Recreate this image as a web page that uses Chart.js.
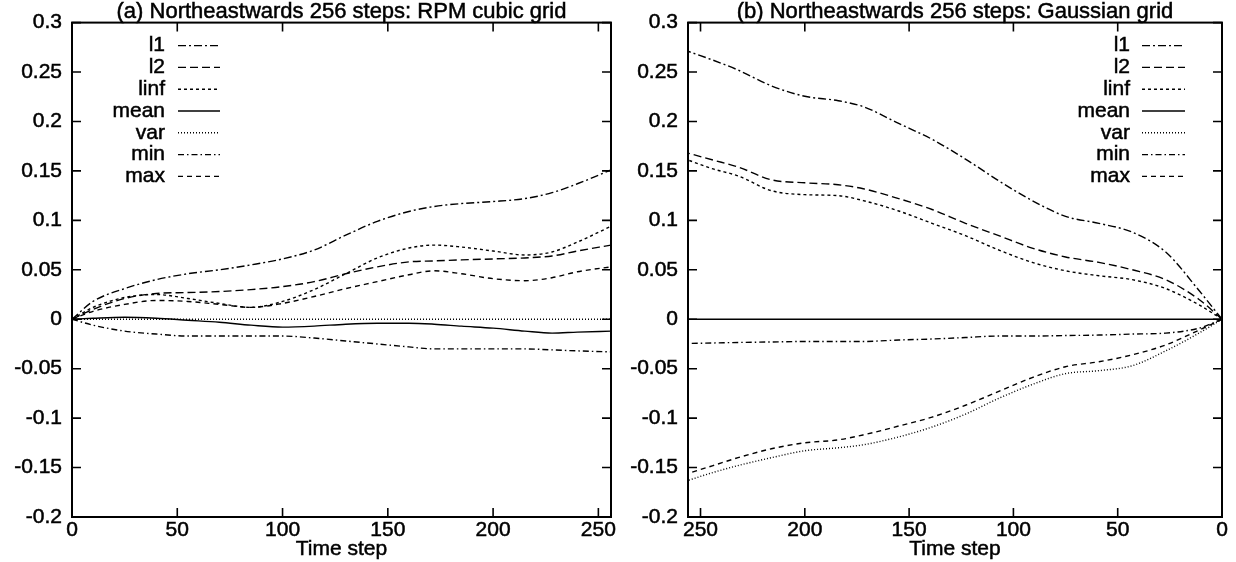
<!DOCTYPE html>
<html><head><meta charset="utf-8">
<script src="https://cdn.jsdelivr.net/npm/chart.js@4.4.1/dist/chart.umd.min.js"></script>
<style>
html,body{margin:0;padding:0;background:#fff;}
#wrap{position:relative;width:1236px;height:562px;overflow:hidden;}
.box{position:absolute;top:0;width:618px;height:562px;}
#b1{left:0;} #b2{left:618px;}
</style></head><body>
<div id="wrap"><div class="box" id="b1"><canvas id="c1" width="618" height="562"></canvas></div><div class="box" id="b2"><canvas id="c2" width="618" height="562"></canvas></div></div>
<script>
// ---------- data ----------
const seriesNames = ['l1','l2','linf','mean','var','min','max'];
const titleA = '(a) Northeastwards 256 steps: RPM cubic grid';
const titleB = '(b) Northeastwards 256 steps: Gaussian grid';
const xAxisTitle = 'Time step';
const xTickValues = [0,50,100,150,200,250];
const yTickValues = [-0.2,-0.15,-0.1,-0.05,0,0.05,0.1,0.15,0.2,0.25,0.3];

const stepsA = [0,10,25,40,55,70,85,100,115,130,145,160,172,185,200,215,228,240,256];
const l1A   = [0,0.018,0.031,0.040,0.046,0.050,0.055,0.061,0.070,0.085,0.099,0.109,0.114,0.117,0.119,0.122,0.128,0.137,0.151];
const l2A   = [0,0.010,0.021,0.026,0.027,0.028,0.030,0.033,0.038,0.046,0.053,0.058,0.059,0.060,0.061,0.062,0.064,0.069,0.075];
const linfA = [0,0.012,0.022,0.025,0.021,0.016,0.012,0.018,0.030,0.046,0.062,0.072,0.075,0.073,0.069,0.065,0.068,0.078,0.094];
const meanA = [0,0.001,0.002,0.001,-0.001,-0.003,-0.006,-0.008,-0.007,-0.005,-0.004,-0.004,-0.005,-0.007,-0.009,-0.012,-0.014,-0.013,-0.012];
const varA  = [0,0,0,0,0,0,0,0,0,0,0,0,0,0,0,0,0,0,0];
const minA  = [0,-0.006,-0.012,-0.015,-0.017,-0.017,-0.017,-0.017,-0.019,-0.022,-0.025,-0.028,-0.030,-0.030,-0.030,-0.030,-0.031,-0.032,-0.033];
const maxA  = [0,0.008,0.015,0.019,0.018,0.015,0.012,0.016,0.023,0.031,0.038,0.045,0.049,0.046,0.041,0.039,0.042,0.048,0.053];

const stepsB = [0,11,27,43,59,75,91,107,123,139,155,172,184,200,216,232,244,256];
const l1B   = [0,0.029,0.068,0.088,0.097,0.104,0.120,0.140,0.162,0.182,0.198,0.215,0.221,0.2255,0.236,0.252,0.262,0.271];
const l2B   = [0,0.020,0.040,0.050,0.0575,0.063,0.072,0.0845,0.097,0.111,0.122,0.132,0.136,0.138,0.141,0.154,0.161,0.168];
const linfB = [0,0.0145,0.031,0.040,0.044,0.049,0.0575,0.070,0.0845,0.097,0.1095,0.120,0.125,0.126,0.130,0.145,0.152,0.161];
const meanB = [0,0,0,0,0,0,0,0,0,0,0,0,0,0,0,0,0,0];
const varB  = [0,-0.014,-0.032,-0.047,-0.052,-0.055,-0.066,-0.080,-0.096,-0.109,-0.119,-0.127,-0.130,-0.133,-0.140,-0.148,-0.155,-0.163];
const minB  = [0,-0.009,-0.014,-0.015,-0.016,-0.0165,-0.017,-0.017,-0.0185,-0.020,-0.021,-0.0225,-0.0225,-0.0225,-0.023,-0.0235,-0.024,-0.0245];
const maxB  = [0,-0.011,-0.026,-0.036,-0.043,-0.048,-0.059,-0.073,-0.087,-0.099,-0.108,-0.117,-0.122,-0.125,-0.131,-0.140,-0.148,-0.156];

// ---------- styles ----------
const dashes = [[8,3,2,3],[8,4],[3,3],[],[1,2],[6,3,1.5,3],[5,4]];
const FONT = "'Liberation Sans', Arial, sans-serif";
Chart.defaults.font.family = FONT;
Chart.defaults.font.size = 21;
Chart.defaults.color = '#000';

function makeDatasets(steps, series){
  return series.map((vals,i)=>({
    label: seriesNames[i],
    data: steps.map((s,k)=>({x:s,y:vals[k]})),
    borderColor:'#000', borderWidth:1.4, borderDash:dashes[i],
    pointRadius:0, fill:false, cubicInterpolationMode:'monotone'
  }));
}

function boldText(ctx, txt, x, y){
  ctx.fillText(txt, x, y);
  ctx.strokeText(txt, x, y);
}

const deco = {
  id:'deco',
  afterDatasetsDraw(chart, args, o){
    const {ctx, chartArea:a, scales:{x,y}} = chart;
    ctx.save();
    ctx.setLineDash([]);
    ctx.strokeStyle='#000';
    ctx.lineWidth=2;
    ctx.strokeRect(a.left,a.top,a.right-a.left,a.bottom-a.top);
    ctx.lineWidth=1.6;
    const L=9;
    ctx.beginPath();
    x.ticks.forEach(t=>{const p=x.getPixelForValue(t.value);
      ctx.moveTo(p,a.bottom);ctx.lineTo(p,a.bottom-L);ctx.moveTo(p,a.top);ctx.lineTo(p,a.top+L);});
    y.ticks.forEach(t=>{const p=y.getPixelForValue(t.value);
      ctx.moveTo(a.left,p);ctx.lineTo(a.left+L,p);ctx.moveTo(a.right,p);ctx.lineTo(a.right-L,p);});
    ctx.stroke();
    ctx.fillStyle='#000';
    ctx.textBaseline='middle';
    ctx.textAlign='center';
    ctx.lineWidth=0.5;
    const cx=(a.left+a.right)/2;
    ctx.font="22px "+FONT;
    boldText(ctx,o.title,cx,o.titleY);
    ctx.font="21px "+FONT;
    boldText(ctx,o.xTitle,cx,o.xTitleY);
    const base = o.legendFromRight ? a.right : a.left;
    chart.data.datasets.forEach((ds,i)=>{
      const yy=a.top+o.legTop+o.legGap*i;
      ctx.textAlign='right';
      ctx.setLineDash([]);
      ctx.lineWidth=0.5;
      boldText(ctx, ds.label, base+o.textX, yy);
      ctx.beginPath();
      ctx.lineWidth=1.4;
      ctx.setLineDash(ds.borderDash||[]);
      ctx.moveTo(base+o.s0,yy);ctx.lineTo(base+o.s1,yy);
      ctx.stroke();
    });
    ctx.restore();
  }
};

function fmt(v){const r=Math.round(v*100)/100; return r===0?'0':String(r);}

function makeChart(id, steps, series, reverse, leftW, rightPad, decoOpts){
  return new Chart(document.getElementById(id), {
    type:'line',
    data:{datasets:makeDatasets(steps, series)},
    options:{
      responsive:false, animation:false, devicePixelRatio:1,
      layout:{padding:{top:20,right:rightPad,bottom:0,left:0}},
      plugins:{legend:{display:false},tooltip:{enabled:false},title:{display:false},deco:decoOpts},
      scales:{
        x:{type:'linear',min:0,max:256,reverse:reverse,
           grid:{display:false,drawTicks:false},border:{display:false},
           afterBuildTicks:s=>{s.ticks=xTickValues.map(v=>({value:v}));},
           ticks:{padding:1,maxRotation:0,autoSkip:false,callback:v=>String(v),textStrokeColor:'#000',textStrokeWidth:0.5},
           afterFit:s=>{s.height=45;}},
        y:{type:'linear',min:-0.2,max:0.3,
           grid:{display:false,drawTicks:false},border:{display:false},
           afterBuildTicks:s=>{s.ticks=yTickValues.map(v=>({value:v}));},
           ticks:{padding:10,autoSkip:false,callback:v=>fmt(v),textStrokeColor:'#000',textStrokeWidth:0.5},
           afterFit:s=>{s.width=leftW;}}
      }
    },
    plugins:[deco]
  });
}

makeChart('c1', stepsA, [l1A,l2A,linfA,meanA,varA,minA,maxA], false, 72, 7,
  {title:titleA,xTitle:xAxisTitle,titleY:12,xTitleY:549,legendFromRight:false,textX:93,s0:106,s1:148,legTop:23,legGap:21.8});
makeChart('c2', stepsB, [l1B,l2B,linfB,meanB,varB,minB,maxB], true, 70, 14,
  {title:titleB,xTitle:xAxisTitle,titleY:12,xTitleY:549,legendFromRight:true,textX:-92,s0:-80,s1:-37,legTop:23,legGap:21.8});
</script>
</body></html>
